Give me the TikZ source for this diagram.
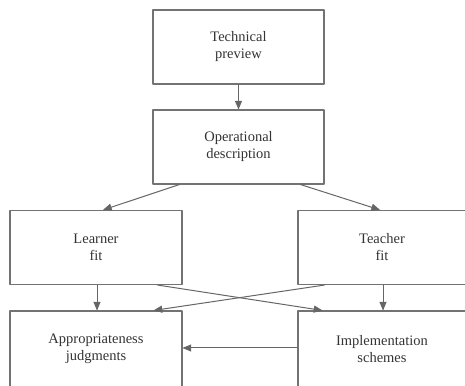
\documentclass[tikz,border=0pt]{standalone}
\usepackage{fontspec}
\setmainfont{Liberation Serif}
\usetikzlibrary{arrows, calc, positioning}

\tikzset{
  blockbox/.style={draw=black!55, line width=1.1pt, text=black!80, align=center,
    inner sep=0pt, font=\fontsize{14.5}{17}\selectfont},
  flow/.style={->, draw=black!60, line width=1pt}
}

\begin{document}
\begin{tikzpicture}[line cap=round,line join=round,>=triangle 45,x=1pt,y=1pt]
\useasboundingbox (0,0) rectangle (465,385);
\clip (0,0) rectangle (465,385);

\node[blockbox, minimum width=171pt, minimum height=74pt] (tech) at (238.5,338) {Technical\\preview};
\node[blockbox, minimum width=171pt, minimum height=74pt] (op) at (238.5,238) {Operational\\description};

\node[blockbox, minimum width=172pt, minimum height=74pt] (lrn) at (96,137.5) {Learner\\fit};
\node[blockbox, minimum width=168pt, minimum height=74pt] (tch) at (382,137.5) {Teacher\\fit};

\node[blockbox, minimum width=172pt, minimum height=76pt] (appr) at (96,36) {Appropriateness\\judgments};
\node[blockbox, minimum width=168pt, minimum height=76pt] (impl) at (382,36) {Implementation\\schemes};

\draw[flow] (tech) -- (op);

\draw[flow] ([xshift=27pt]op.south west) -- ([xshift=7pt]lrn.north);
\draw[flow] ([xshift=-24pt]op.south east) -- ([xshift=-2pt]tch.north);

\draw[flow] ([xshift=1pt]lrn.south) -- ([xshift=1pt]appr.north);
\draw[flow] ([xshift=1pt]tch.south) -- ([xshift=1pt]impl.north);

\draw[flow] ([xshift=-25pt]lrn.south east) -- ([xshift=25pt]impl.north west);
\draw[flow] ([xshift=27pt]tch.south west) -- ([xshift=-29pt]appr.north east);

\draw[flow] ([yshift=1pt]impl.west) -- ([yshift=1pt]appr.east);
\end{tikzpicture}
\end{document}
